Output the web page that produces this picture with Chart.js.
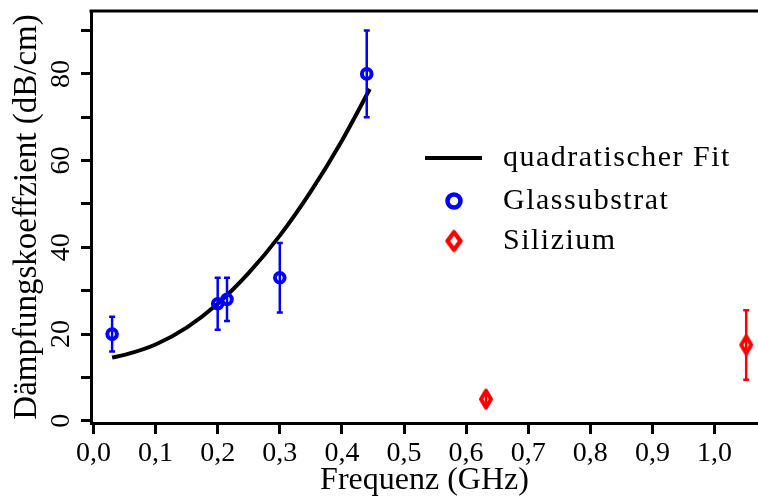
<!DOCTYPE html>
<html>
<head>
<meta charset="utf-8">
<script src="https://cdn.jsdelivr.net/npm/chart.js@4"></script>
<style>
  html, body { margin: 0; padding: 0; background: #fff; }
  #wrap { width: 758px; height: 500px; }
</style>
</head>
<body>
<div id="wrap"><canvas id="myChart" width="758" height="500"></canvas></div>
<script>
// measured attenuation, glass substrate
const freqGlass = [0.03, 0.20, 0.215, 0.30, 0.44];
const dampGlass = [20, 27, 28, 33, 80];
const errGlass = [4, 6, 5, 8, 10];

// measured attenuation, silicon
const freqSi = [0.632, 1.051];
const dampSi = [5, 17.5];
const errSi = [1, 8];

// quadratic fit through the glass data
const fitFreq = [0.03, 0.05, 0.10, 0.15, 0.20, 0.25, 0.30, 0.35, 0.40, 0.445];
const fitDamp = [14.6, 15.2, 17.6, 21.5, 27.0, 34.1, 42.7, 52.9, 64.6, 76.5];

const xTicks = [0.0, 0.1, 0.2, 0.3, 0.4, 0.5, 0.6, 0.7, 0.8, 0.9, 1.0];
const yTicks = [0, 10, 20, 30, 40, 50, 60, 70, 80, 90];
const yLabelled = [0, 20, 40, 60, 80];

const FONT = "'Liberation Serif', 'Times New Roman', serif";
const BLUE = "rgb(0, 0, 255)";
const RED = "rgb(255, 0, 0)";

function toPoints(xs, ys) {
  return xs.map((x, i) => ({ x: x, y: ys[i] }));
}

//Hollow diamond marker, taller than wide
function makeDiamond(w, h, lw) {
  const c = document.createElement("canvas");
  c.width = Math.ceil(w + lw * 2);
  c.height = Math.ceil(h + lw * 2);
  const g = c.getContext("2d");
  const cx = c.width / 2;
  const cy = c.height / 2;
  g.strokeStyle = RED;
  g.lineWidth = lw;
  g.lineJoin = "round";
  g.beginPath();
  g.moveTo(cx, cy - h / 2);
  g.lineTo(cx + w / 2, cy);
  g.lineTo(cx, cy + h / 2);
  g.lineTo(cx - w / 2, cy);
  g.closePath();
  g.stroke();
  return c;
}
const diamond = makeDiamond(10, 17, 4);
const legendDiamond = makeDiamond(13, 17.5, 4.5);

//Vertical error bars with small caps
const errorBars = {
  id: "errorBars",
  afterDatasetsDraw(chart) {
    const ctx = chart.ctx;
    const yScale = chart.scales.y;
    const xScale = chart.scales.x;
    chart.data.datasets.forEach((ds) => {
      if (!ds.errors) return;
      ctx.save();
      ctx.strokeStyle = ds.borderColor;
      ctx.lineWidth = 2.5;
      ds.data.forEach((p, i) => {
        const px = xScale.getPixelForValue(p.x);
        const top = yScale.getPixelForValue(p.y + ds.errors[i]);
        const bot = yScale.getPixelForValue(p.y - ds.errors[i]);
        ctx.beginPath();
        ctx.moveTo(px, top);
        ctx.lineTo(px, bot);
        ctx.moveTo(px - 3, top);
        ctx.lineTo(px + 3, top);
        ctx.moveTo(px - 3, bot);
        ctx.lineTo(px + 3, bot);
        ctx.stroke();
      });
      ctx.restore();
    });
  },
};

//Top frame line and the legend inside the plot
const frameAndLegend = {
  id: "frameAndLegend",
  afterDraw(chart) {
    const ctx = chart.ctx;
    const area = chart.chartArea;
    ctx.save();
    ctx.strokeStyle = "#000";
    ctx.lineWidth = 3;
    ctx.beginPath();
    ctx.moveTo(area.left - 1.5, area.top);
    ctx.lineTo(chart.width, area.top);
    ctx.stroke();

    const ds = chart.data.datasets;
    const lx = 425;
    const tx = 503;
    const rows = [158, 201, 241];

    //fit line sample
    ctx.lineWidth = 4;
    ctx.beginPath();
    ctx.moveTo(lx, rows[0]);
    ctx.lineTo(lx + 57, rows[0]);
    ctx.stroke();

    //circle sample
    ctx.strokeStyle = BLUE;
    ctx.lineWidth = 4.5;
    ctx.beginPath();
    ctx.arc(lx + 29, rows[1], 6.5, 0, Math.PI * 2);
    ctx.stroke();

    //diamond sample
    ctx.drawImage(
      legendDiamond,
      lx + 29 - legendDiamond.width / 2,
      rows[2] - legendDiamond.height / 2
    );

    ctx.fillStyle = "#000";
    ctx.font = "30px " + FONT;
    ctx.letterSpacing = "1.5px";
    ctx.textBaseline = "middle";
    ctx.textAlign = "left";
    ctx.fillText(ds[2].label, tx, rows[0]);
    ctx.fillText(ds[0].label, tx, rows[1]);
    ctx.fillText(ds[1].label, tx, rows[2]);
    ctx.restore();
  },
};

const ctx = document.getElementById("myChart");
const myChart = new Chart(ctx, {
  type: "scatter",
  data: {
    datasets: [
      {
        label: "Glassubstrat",
        data: toPoints(freqGlass, dampGlass),
        errors: errGlass,
        borderColor: BLUE,
        backgroundColor: "rgba(0,0,0,0)",
        pointStyle: "circle",
        pointRadius: 4.8,
        pointBorderWidth: 4,
        order: 1,
      },
      {
        label: "Silizium",
        data: toPoints(freqSi, dampSi),
        errors: errSi,
        borderColor: RED,
        backgroundColor: "rgba(0,0,0,0)",
        pointStyle: diamond,
        order: 2,
      },
      {
        label: "quadratischer Fit",
        type: "line",
        data: toPoints(fitFreq, fitDamp),
        borderColor: "#000",
        borderWidth: 4,
        pointRadius: 0,
        fill: false,
        cubicInterpolationMode: "monotone",
        order: 3,
      },
    ],
  },
  options: {
    responsive: false,
    animation: false,
    layout: { autoPadding: false, padding: { top: 11, right: 0, left: 0, bottom: 0 } },
    plugins: {
      legend: { display: false },
      tooltip: { enabled: false },
    },
    scales: {
      x: {
        type: "linear",
        min: -0.004,
        max: 1.07,
        afterBuildTicks: (scale) => {
          scale.ticks = xTicks.map((v) => ({ value: v }));
        },
        afterFit: (scale) => {
          scale.height = 77;
          scale.paddingLeft = 0;
          scale.paddingRight = 0;
        },
        border: { color: "#000", width: 3 },
        grid: {
          drawOnChartArea: false,
          drawTicks: true,
          tickLength: 11,
          tickWidth: 3,
          tickColor: "#000",
        },
        ticks: {
          autoSkip: false,
          maxRotation: 0,
          padding: 3,
          color: "#000",
          font: { family: FONT, size: 28 },
          callback: (v) => v.toFixed(1).replace(".", ","),
        },
        title: {
          display: true,
          text: "Frequenz (GHz)",
          color: "#000",
          font: { family: FONT, size: 32 },
          padding: { top: 0, bottom: 0 },
        },
      },
      y: {
        type: "linear",
        min: -0.5,
        max: 94.5,
        afterBuildTicks: (scale) => {
          scale.ticks = yTicks.map((v) => ({ value: v }));
        },
        afterFit: (scale) => {
          scale.width = 91;
          scale.paddingTop = 0;
          scale.paddingBottom = 0;
        },
        border: { color: "#000", width: 3 },
        grid: {
          drawOnChartArea: false,
          drawTicks: true,
          tickLength: 10,
          tickWidth: 3,
          tickColor: "#000",
        },
        ticks: {
          autoSkip: false,
          minRotation: 90,
          maxRotation: 90,
          crossAlign: "center",
          padding: 5,
          color: "#000",
          font: { family: FONT, size: 28 },
          callback: (v) => (yLabelled.includes(v) ? String(v) : ""),
        },
        title: {
          display: true,
          text: "Dämpfungskoeffzient (dB/cm)",
          color: "#000",
          font: { family: FONT, size: 33 },
          padding: { top: 8, bottom: 0 },
        },
      },
    },
  },
  plugins: [errorBars, frameAndLegend],
});
</script>
</body>
</html>
